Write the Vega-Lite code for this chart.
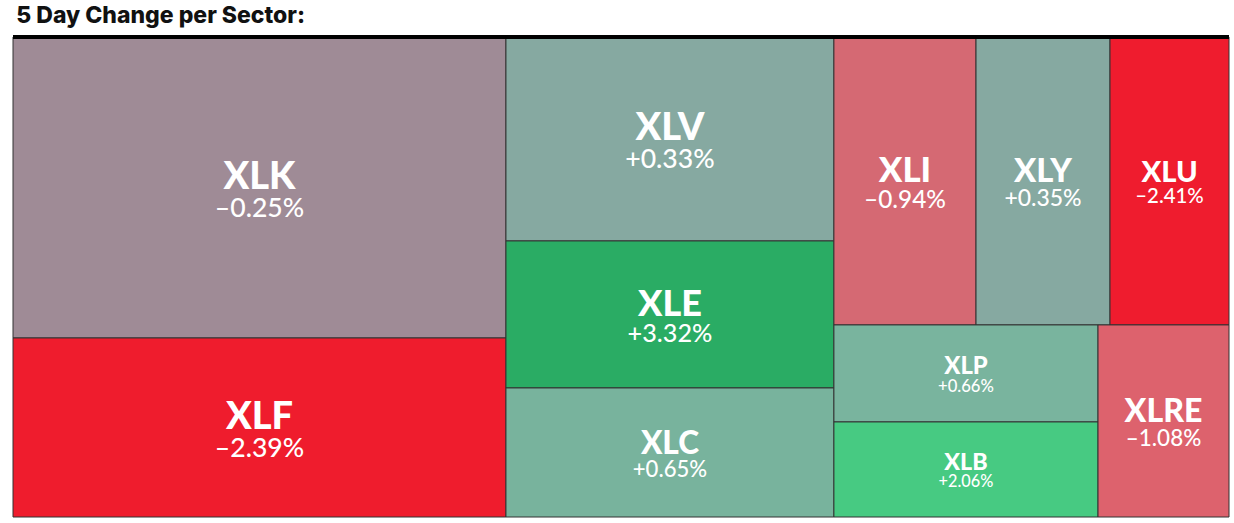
{
  "$schema": "https://vega.github.io/schema/vega-lite/v6.json",
  "width": 1216,
  "height": 480,
  "autosize": "none",
  "padding": {"left": 13, "top": 37, "right": 5, "bottom": 6},
  "background": "white",
  "view": {"stroke": null},
  "title": {
    "text": "5 Day Change per Sector:",
    "anchor": "start",
    "dx": 5,
    "offset": 7,
    "font": "Inter",
    "fontSize": 23,
    "fontWeight": 800,
    "color": "#111111"
  },
  "data": {
    "values": [
      {"ticker": "XLK", "label": "–0.25%", "chg": -0.25, "w": 25.42, "col": 1, "row": 1, "grp": 1, "ord": 1},
      {"ticker": "XLF", "label": "–2.39%", "chg": -2.39, "w": 15.12, "col": 1, "row": 2, "grp": 1, "ord": 1},
      {"ticker": "XLV", "label": "+0.33%", "chg": 0.33, "w": 11.46, "col": 2, "row": 1, "grp": 1, "ord": 1},
      {"ticker": "XLE", "label": "+3.32%", "chg": 3.32, "w": 8.26, "col": 2, "row": 2, "grp": 1, "ord": 1},
      {"ticker": "XLC", "label": "+0.65%", "chg": 0.65, "w": 7.25, "col": 2, "row": 3, "grp": 1, "ord": 1},
      {"ticker": "XLI", "label": "–0.94%", "chg": -0.94, "w": 7.01, "col": 3, "row": 1, "grp": 1, "ord": 1},
      {"ticker": "XLY", "label": "+0.35%", "chg": 0.35, "w": 6.61, "col": 3, "row": 1, "grp": 2, "ord": 1},
      {"ticker": "XLU", "label": "–2.41%", "chg": -2.41, "w": 5.87, "col": 3, "row": 1, "grp": 3, "ord": 1},
      {"ticker": "XLP", "label": "+0.66%", "chg": 0.66, "w": 4.39, "col": 3, "row": 2, "grp": 1, "ord": 1},
      {"ticker": "XLB", "label": "+2.06%", "chg": 2.06, "w": 4.30, "col": 3, "row": 2, "grp": 1, "ord": 2},
      {"ticker": "XLRE", "label": "–1.08%", "chg": -1.08, "w": 4.31, "col": 3, "row": 2, "grp": 2, "ord": 1}
    ]
  },
  "transform": [
    {"stack": "w", "groupby": [], "sort": [{"field": "col", "order": "ascending"}, {"field": "row", "order": "ascending"}, {"field": "grp", "order": "ascending"}, {"field": "ord", "order": "ascending"}], "as": ["a0", "a1"]},
    {"joinaggregate": [{"op": "min", "field": "a0", "as": "cx0"}, {"op": "max", "field": "a1", "as": "cx1"}, {"op": "sum", "field": "w", "as": "csum"}], "groupby": ["col"]},
    {"stack": "w", "groupby": ["col"], "sort": [{"field": "row", "order": "ascending"}, {"field": "grp", "order": "ascending"}, {"field": "ord", "order": "ascending"}], "as": ["b0", "b1"]},
    {"joinaggregate": [{"op": "min", "field": "b0", "as": "ry0"}, {"op": "max", "field": "b1", "as": "ry1"}, {"op": "sum", "field": "w", "as": "rsum"}], "groupby": ["col", "row"]},
    {"stack": "w", "groupby": ["col", "row"], "sort": [{"field": "grp", "order": "ascending"}, {"field": "ord", "order": "ascending"}], "as": ["c0", "c1"]},
    {"joinaggregate": [{"op": "min", "field": "c0", "as": "gx0"}, {"op": "max", "field": "c1", "as": "gx1"}, {"op": "sum", "field": "w", "as": "gsum"}], "groupby": ["col", "row", "grp"]},
    {"stack": "w", "groupby": ["col", "row", "grp"], "sort": [{"field": "ord", "order": "ascending"}], "as": ["d0", "d1"]},
    {"calculate": "datum.cx0 + (datum.cx1 - datum.cx0) * datum.gx0 / datum.rsum", "as": "x0"},
    {"calculate": "datum.cx0 + (datum.cx1 - datum.cx0) * datum.gx1 / datum.rsum", "as": "x1"},
    {"calculate": "datum.ry0 / datum.csum", "as": "yr0"},
    {"calculate": "datum.ry1 / datum.csum", "as": "yr1"},
    {"calculate": "datum.yr0 + (datum.yr1 - datum.yr0) * datum.d0 / datum.gsum", "as": "y0"},
    {"calculate": "datum.yr0 + (datum.yr1 - datum.yr0) * datum.d1 / datum.gsum", "as": "y1"},
    {"calculate": "(datum.x0 + datum.x1) / 2", "as": "xm"},
    {"calculate": "min((datum.x1 - datum.x0) * 12.16, (datum.y1 - datum.y0) * 480)", "as": "mindim"},
    {"calculate": "min(38, 0.245 * datum.mindim)", "as": "fs"},
    {"calculate": "0.7 * datum.fs", "as": "fs2"},
    {"calculate": "(datum.y0 + datum.y1) / 2 + 0.04 * datum.fs / 480", "as": "yt"},
    {"calculate": "(datum.y0 + datum.y1) / 2 + 0.77 * datum.fs / 480", "as": "yc"}
  ],
  "encoding": {
    "x": {"field": "x0", "type": "quantitative", "scale": {"domain": [0, 100], "nice": false, "zero": false}, "axis": null}
  },
  "layer": [
    {
      "mark": {"type": "rect", "stroke": "#333333", "strokeWidth": 1},
      "encoding": {
        "x2": {"field": "x1"},
        "y": {"field": "y0", "type": "quantitative", "scale": {"domain": [0, 1], "nice": false, "reverse": true}, "axis": null},
        "y2": {"field": "y1"},
        "color": {
          "field": "ticker", "type": "nominal", "legend": null,
          "scale": {
            "domain": ["XLK", "XLF", "XLV", "XLE", "XLC", "XLI", "XLY", "XLU", "XLP", "XLB", "XLRE"],
            "range": ["#9f8b96", "#ef1c2d", "#86a9a1", "#2aac64", "#78b39d", "#d56973", "#86a9a1", "#ef1c2e", "#79b49e", "#47ca82", "#dd626d"]
          }
        }
      }
    },
    {
      "mark": {"type": "text", "font": "Lato", "fontWeight": 900, "color": "white", "baseline": "alphabetic", "align": "center"},
      "encoding": {
        "x": {"field": "xm", "type": "quantitative"},
        "y": {"field": "yt", "type": "quantitative"},
        "text": {"field": "ticker"},
        "size": {"field": "fs", "type": "quantitative", "scale": null}
      }
    },
    {
      "mark": {"type": "text", "font": "Lato", "fontWeight": 500, "color": "white", "baseline": "alphabetic", "align": "center"},
      "encoding": {
        "x": {"field": "xm", "type": "quantitative"},
        "y": {"field": "yc", "type": "quantitative"},
        "text": {"field": "label"},
        "size": {"field": "fs2", "type": "quantitative", "scale": null}
      }
    },
    {
      "mark": {"type": "rule", "color": "#000000", "strokeWidth": 3.5},
      "encoding": {
        "x": {"datum": 0},
        "x2": {"datum": 100},
        "y": {"datum": 0}
      }
    }
  ]
}
